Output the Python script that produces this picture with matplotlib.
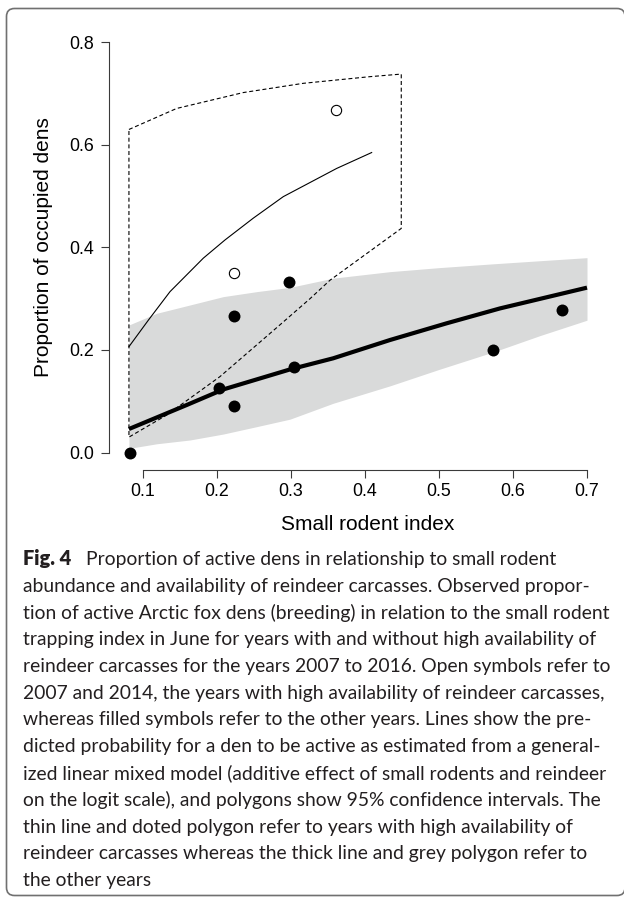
import matplotlib
matplotlib.use("Agg")
import matplotlib.pyplot as plt
from matplotlib.patches import FancyBboxPatch
from matplotlib.transforms import IdentityTransform, blended_transform_factory

# observed proportions (filled = other years, open = high reindeer carcass years)
filled_x = [0.083, 0.203, 0.2226, 0.2226, 0.2967, 0.3047, 0.5727, 0.6657]
filled_y = [0.0, 0.125, 0.0909, 0.2667, 0.3333, 0.1667, 0.2, 0.2778]
open_x = [0.2226, 0.3606]
open_y = [0.35, 0.667]

# thick line + grey band (other years)
band_x = [0.081, 0.1185, 0.1635, 0.2085, 0.2536, 0.2986, 0.357, 0.4338, 0.50, 0.5734, 0.6365, 0.70]
band_hi = [0.2487, 0.2715, 0.2877, 0.304, 0.3137, 0.322, 0.340, 0.3527, 0.3605, 0.368, 0.374, 0.380]
band_lo = [0.008, 0.017, 0.0244, 0.036, 0.0504, 0.065, 0.096, 0.130, 0.162, 0.196, 0.228, 0.258]
thick_x = [0.081, 0.159, 0.2085, 0.2986, 0.357, 0.4338, 0.5104, 0.5824, 0.70]
thick_y = [0.0458, 0.0926, 0.123, 0.162, 0.1837, 0.2194, 0.252, 0.281, 0.3215]

# thin line + dashed polygon (high carcass years)
thin_x = [0.081, 0.1072, 0.1365, 0.1815, 0.2108, 0.249, 0.2896, 0.3617, 0.409]
thin_y = [0.2064, 0.258, 0.3137, 0.379, 0.4145, 0.457, 0.499, 0.554, 0.585]
ci_hi_x = [0.081, 0.1455, 0.2356, 0.3166, 0.4068, 0.449]
ci_hi_y = [0.630, 0.671, 0.702, 0.720, 0.733, 0.738]
ci_lo_x = [0.081, 0.132, 0.204, 0.2851, 0.3257, 0.3527, 0.449]
ci_lo_y = [0.030, 0.073, 0.148, 0.249, 0.300, 0.336, 0.437]

xticks = [0.1, 0.2, 0.3, 0.4, 0.5, 0.6, 0.7]
yticks = [0.0, 0.2, 0.4, 0.6, 0.8]

caption = [
    "abundance and availability of reindeer carcasses. Observed propor-",
    "tion of active Arctic fox dens (breeding) in relation to the small rodent",
    "trapping index in June for years with and without high availability of",
    "reindeer carcasses for the years 2007 to 2016. Open symbols refer to",
    "2007 and 2014, the years with high availability of reindeer carcasses,",
    "whereas filled symbols refer to the other years. Lines show the pre-",
    "dicted probability for a den to be active as estimated from a general-",
    "ized linear mixed model (additive effect of small rodents and reindeer",
    "on the logit scale), and polygons show 95% confidence intervals. The",
    "thin line and doted polygon refer to years with high availability of",
    "reindeer carcasses whereas the thick line and grey polygon refer to",
    "the other years",
]
caption_first = "Proportion of active dens in relationship to small rodent"

W, H = 624, 898
plt.rcParams["font.family"] = ["Liberation Sans", "DejaVu Sans"]

fig = plt.figure(figsize=(W / 100, H / 100), dpi=100)


def fx(px):
    return px / W


def fy(py):
    return 1 - py / H


ax = fig.add_axes([fx(109), fy(470), fx(600) - fx(109), fy(35) - fy(470)])
ax.set_xlim(0.1 - 34 / 740, 0.7 + 13 / 740)
ax.set_ylim(-17.5 / 512.75, 0.8 + 7.3 / 512.75)

ax.fill_between(band_x, band_lo, band_hi, color="#d9dada", lw=0, zorder=1)
ax.plot(thick_x, thick_y, color="black", lw=3.0, solid_capstyle="butt", zorder=3)
ax.plot(thin_x, thin_y, color="black", lw=0.8, zorder=3)
poly_x = ci_hi_x + ci_lo_x[::-1] + [ci_hi_x[0]]
poly_y = ci_hi_y + ci_lo_y[::-1] + [ci_hi_y[0]]
ax.plot(poly_x, poly_y, color="black", lw=0.8, linestyle=(0, (3.6, 2.4)), zorder=3)

ax.plot(filled_x, filled_y, "o", color="black", ms=8.6, mew=0, zorder=4)
ax.plot(open_x, open_y, "o", mfc="white", mec="black", ms=7.4, mew=0.8, zorder=4)

for side in ["top", "right"]:
    ax.spines[side].set_visible(False)
ax.spines["left"].set_bounds(0, 0.8)
ax.spines["bottom"].set_bounds(0.1, 0.7)
for side in ["left", "bottom"]:
    ax.spines[side].set_color("#3a3a3a")
    ax.spines[side].set_linewidth(0.8)

ax.set_xticks(xticks)
ax.set_yticks(yticks)
ax.set_xticklabels([f"{v:.1f}" for v in xticks])
ax.set_yticklabels([f"{v:.1f}" for v in yticks])
ax.tick_params(direction="out", length=6, width=0.8, color="#3a3a3a", labelsize=12.75)
ax.tick_params(axis="x", pad=3.6)
ax.tick_params(axis="y", pad=4.8)

fig.text(fx(368), fy(530), "Small rodent index", fontsize=15, ha="center", va="baseline")
tr = blended_transform_factory(fig.transFigure, ax.transData)
fig.text(fx(44), 0.4, "Proportion of occupied dens", fontsize=15, rotation=90,
         ha="center", va="center", transform=tr)

# caption
cap_font = ["Lato", "DejaVu Sans"]
renderer = fig.canvas.get_renderer()
probe = fig.text(0, 0, caption[1], fontsize=10, family=cap_font)
pw = probe.get_window_extent(renderer).width
probe.remove()
cap_size = 10 * 588 / pw

base = 565
step = 26.75
fig.text(fx(23), fy(base), "Fig. 4", fontsize=cap_size * 1.04, family=cap_font, weight="heavy",
         color="#231f20", va="baseline")
fig.text(fx(86), fy(base), caption_first, fontsize=cap_size, family=cap_font,
         color="#231f20", va="baseline")
for i, line in enumerate(caption):
    fig.text(fx(23), fy(base + step * (i + 1)), line, fontsize=cap_size, family=cap_font,
             color="#231f20", va="baseline")

frame = FancyBboxPatch((6.5, H - 895.5), 618.5, 887, boxstyle="round,pad=0,rounding_size=8",
                       transform=IdentityTransform(), fill=False, ec="#707070", lw=1.2)
fig.patches.append(frame)

fig.savefig("out.png", dpi=100)
